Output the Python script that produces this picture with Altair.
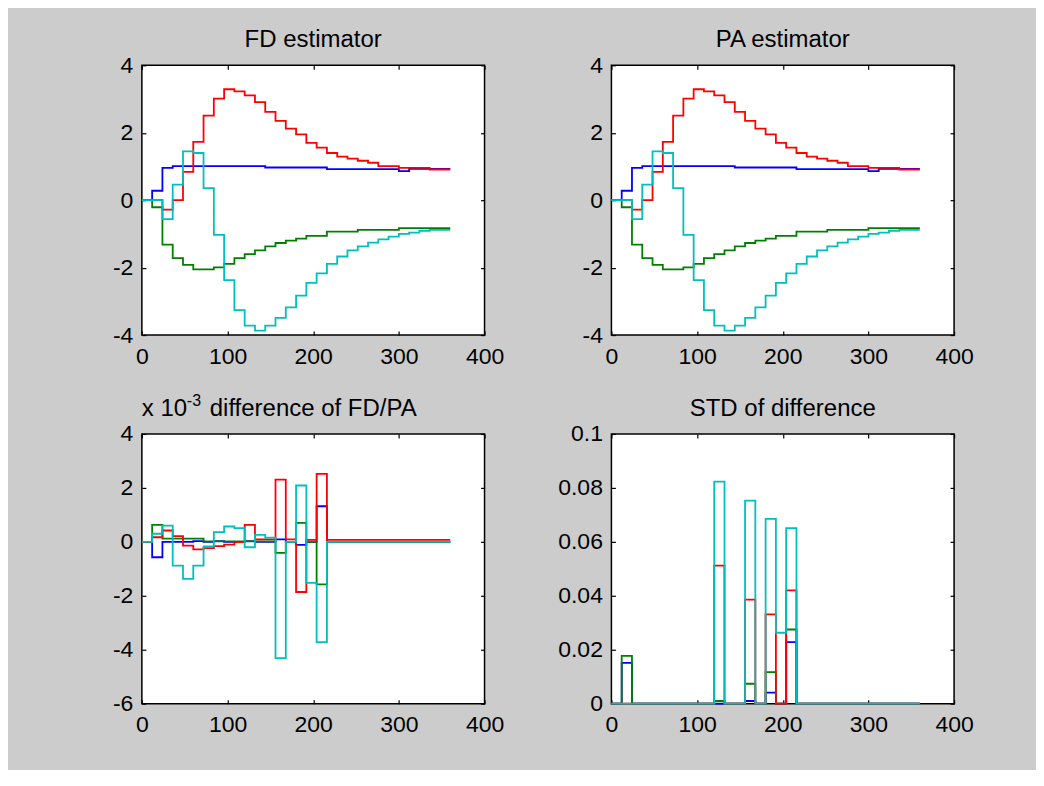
import altair as alt
import pandas as pd

# ---------------- data ----------------
XS = [0, 12, 24, 36, 48, 60, 72, 84, 96, 108, 120, 132, 144, 156, 168, 180,
      192, 204, 216, 228, 240, 252, 264, 276, 288, 300, 312, 324, 336, 348, 360]

FD_BLUE = [0.00, 0.28, 0.96, 1.01, 1.01, 1.01, 1.01, 1.01, 1.01, 1.01, 1.01,
           1.01, 0.97, 0.97, 0.97, 0.97, 0.97, 0.97, 0.92, 0.92, 0.92, 0.92,
           0.92, 0.92, 0.92, 0.86, 0.93, 0.93, 0.93, 0.93, 0.93]
FD_GREEN = [0.00, -0.21, -1.32, -1.72, -1.92, -2.05, -2.05, -1.99, -1.89, -1.72,
            -1.60, -1.49, -1.37, -1.27, -1.20, -1.14, -1.06, -1.06, -0.93, -0.93,
            -0.93, -0.88, -0.88, -0.88, -0.88, -0.83, -0.83, -0.83, -0.83, -0.83,
            -0.83]
FD_RED = [0.00, 0.00, -0.28, 0.00, 0.84, 1.73, 2.51, 3.01, 3.29, 3.23, 3.11,
          2.91, 2.62, 2.35, 2.12, 1.95, 1.70, 1.56, 1.40, 1.29, 1.23, 1.17,
          1.11, 1.01, 1.01, 0.96, 0.96, 0.96, 0.91, 0.91, 0.91]
FD_CYAN = [0.00, 0.00, -0.56, 0.46, 1.45, 1.40, 0.36, -1.03, -2.37, -3.26, -3.72,
           -3.87, -3.72, -3.49, -3.18, -2.83, -2.45, -2.17, -1.89, -1.67, -1.49,
           -1.37, -1.26, -1.16, -1.08, -1.00, -0.96, -0.91, -0.88, -0.88, -0.88]

# PA estimator is visually identical to FD (differences are ~1e-3)
PA_BLUE = FD_BLUE
PA_GREEN = FD_GREEN
PA_RED = FD_RED
PA_CYAN = FD_CYAN

# difference of FD/PA, in units of 1e-3
DIFF_BLUE = [0, -0.57, 0, 0, 0, 0.03, 0, 0.03, 0, 0, 0.03, 0, 0, 0.09, 0, -0.11,
             0, 1.32, 0, 0, 0, 0, 0, 0, 0, 0, 0, 0, 0, 0, 0]
DIFF_GREEN = [0, 0.63, 0.12, 0.12, 0.12, 0.12, 0.02, 0.02, 0.02, 0.02, 0.02, 0.02,
              0.02, -0.41, 0, 0.70, 0, -1.58, 0, 0, 0, 0, 0, 0, 0, 0, 0, 0, 0, 0, 0]
DIFF_RED = [0, 0.17, 0.42, 0.21, -0.14, -0.28, -0.23, -0.16, -0.10, -0.01, 0.63,
            0.09, 0.09, 2.31, 0.09, -1.86, 0.07, 2.52, 0.07, 0.07, 0.07, 0.07,
            0.07, 0.07, 0.07, 0.07, 0.07, 0.07, 0.07, 0.07, 0.07]
DIFF_CYAN = [0, 0.30, 0.60, -0.88, -1.37, -0.88, -0.17, 0.36, 0.57, 0.51, -0.20,
             0.26, 0.16, -4.31, 0, 2.09, -1.52, -3.72, 0, 0, 0, 0, 0, 0, 0, 0, 0,
             0, 0, 0, 0]

# STD of difference
STD_BLUE = [0, 0.0151, 0, 0, 0, 0, 0, 0, 0, 0, 0, 0, 0, 0.001, 0, 0.0041, 0,
            0.0228, 0, 0, 0, 0, 0, 0, 0, 0, 0, 0, 0, 0, 0]
STD_GREEN = [0, 0.0177, 0, 0, 0, 0, 0, 0, 0, 0, 0.001, 0, 0, 0.0074, 0, 0.0117,
             0, 0.0275, 0, 0, 0, 0, 0, 0, 0, 0, 0, 0, 0, 0, 0]
STD_RED = [0, 0, 0, 0, 0, 0, 0, 0, 0, 0, 0.0512, 0, 0, 0.0386, 0, 0.0331, 0,
           0.0420, 0, 0, 0, 0, 0, 0, 0, 0, 0, 0, 0, 0, 0]
STD_CYAN = [0, 0, 0, 0, 0, 0, 0, 0, 0, 0, 0.0823, 0, 0, 0.0753, 0, 0.0685,
            0.0263, 0.0651, 0, 0, 0, 0, 0, 0, 0, 0, 0, 0, 0, 0, 0]

TITLES = ["FD estimator", "PA estimator", "difference of FD/PA", "STD of difference"]
EXPONENT = ["x 10", "-3"]

X_TICKS = [0, 100, 200, 300, 400]
Y_TICKS_EST = [-4, -2, 0, 2, 4]
Y_TICKS_DIFF = [-6, -4, -2, 0, 2, 4]
Y_TICKS_STD = [0, 0.02, 0.04, 0.06, 0.08, 0.1]

SERIES = ["blue", "green", "red", "cyan"]
COLORS = {"blue": "#0000ff", "green": "#008000", "red": "#ff0000", "cyan": "#00bfbf"}

FONT = "Liberation Sans"
W, H = 343, 270


def long_df(values):
    rows = []
    for name, vals in zip(SERIES, values):
        for x, v in zip(XS, vals):
            rows.append({"x": x, "v": v, "s": name})
    return pd.DataFrame(rows)


def text_layer(txt, size, xpos, ypos, align):
    return (
        alt.Chart(pd.DataFrame({"t": [txt]}))
        .mark_text(align=align, baseline="alphabetic", font=FONT, fontSize=size, color="black")
        .encode(text="t:N", x=alt.value(xpos), y=alt.value(ypos))
    )


def panel(values, ydom, yticks, title, exponent=False):
    df = long_df(values)
    xscale = alt.Scale(domain=[0, 400], nice=False, zero=False)
    yscale = alt.Scale(domain=ydom, nice=False, zero=False)
    common = dict(tickSize=4, offset=-4, domain=False, grid=False, title=None,
                  tickColor="black", tickWidth=1.2)
    bottom = alt.Axis(orient="bottom", values=X_TICKS, labelPadding=10,
                      labelFont=FONT, labelFontSize=23, labelColor="black",
                      labelFlush=False, labelOverlap=False,
                      labelExpr="'' + datum.value", **common)
    left = alt.Axis(orient="left", values=yticks, labelPadding=9,
                    labelFont=FONT, labelFontSize=23, labelColor="black",
                    labelOverlap=False, labelExpr="'' + datum.value", **common)
    top = alt.Axis(orient="top", values=X_TICKS, labels=False, **common)
    right = alt.Axis(orient="right", values=yticks, labels=False, **common)

    layers = []
    for i, name in enumerate(SERIES):
        layers.append(
            alt.Chart(df)
            .transform_filter(alt.datum.s == name)
            .mark_line(interpolate="step-after", color=COLORS[name], strokeWidth=1.8)
            .encode(
                x=alt.X("x:Q", scale=xscale, axis=bottom if i == 0 else None),
                y=alt.Y("v:Q", scale=yscale, axis=left if i == 0 else None),
            )
        )
    layers.append(
        alt.Chart(df)
        .mark_line(opacity=0)
        .encode(
            x=alt.X("x:Q", scale=xscale, axis=top),
            y=alt.Y("v:Q", scale=yscale, axis=right),
            detail="s:N",
        )
    )
    layers.append(text_layer(title, 24, W / 2, -18, "center"))
    if exponent:
        layers.append(text_layer(EXPONENT[0], 24, 0, -18, "left"))
        layers.append(text_layer(EXPONENT[1], 16, 45, -28, "left"))
    return (
        alt.layer(*layers)
        .resolve_axis(x="independent", y="independent")
        .properties(width=W, height=H)
    )


p1 = panel([FD_BLUE, FD_GREEN, FD_RED, FD_CYAN], [-4, 4], Y_TICKS_EST, TITLES[0])
p2 = panel([PA_BLUE, PA_GREEN, PA_RED, PA_CYAN], [-4, 4], Y_TICKS_EST, TITLES[1])
p3 = panel([DIFF_BLUE, DIFF_GREEN, DIFF_RED, DIFF_CYAN], [-6, 4], Y_TICKS_DIFF,
           TITLES[2], exponent=True)
p4 = panel([STD_BLUE, STD_GREEN, STD_RED, STD_CYAN], [0, 0.1], Y_TICKS_STD, TITLES[3])

chart = (
    alt.concat(p1, p2, p3, p4, columns=2, spacing={"row": 99, "column": 127}, bounds="flush")
    .properties(padding={"left": 103, "top": 19, "right": 62, "bottom": 32})
    .configure(background="#cccccc")
    .configure_view(fill="white", stroke="black", strokeWidth=1.5)
)

chart.save("out.html", embed_options={"renderer": "svg", "actions": False})
